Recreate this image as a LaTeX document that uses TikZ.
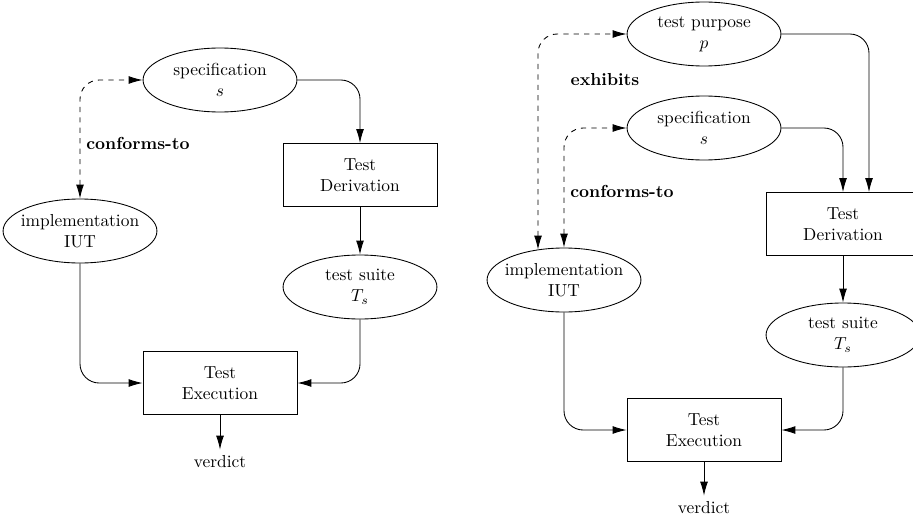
\documentclass[tikz,border=0pt]{standalone}
\usetikzlibrary{shapes.geometric,arrows.meta,calc}
\begin{document}
\begin{tikzpicture}[x=0.575pt,y=-0.575pt,line width=0.5pt,
  artefact/.style={draw,ellipse,inner xsep=-4pt,inner ysep=0pt,
    minimum width=88.5pt,minimum height=36.8pt,align=center},
  activity/.style={draw,rectangle,inner sep=0pt,
    minimum width=88.5pt,minimum height=36.2pt,align=center},
  tip/.style={Latex[length=8pt,width=4.5pt]},
  flow/.style={-{Latex[length=8pt,width=4.5pt]},rounded corners=11pt},
  relation/.style={dashed,{Latex[length=8pt,width=4.5pt]}-{Latex[length=8pt,width=4.5pt]},rounded corners=11pt},
  rellabel/.style={font=\bfseries}]
\useasboundingbox (0,0) rectangle (913,520);
\clip (0,0) rectangle (913,520);

% ---- conformance testing
\node[artefact] (specA) at (220,80) {specification\\$s$};
\node[activity] (derA) at (360,175) {Test\\Derivation};
\node[artefact] (iutA) at (80,231) {implementation\\IUT};
\node[artefact] (suiteA) at (360,287) {test suite\\$T_s$};
\node[activity] (execA) at (220,383) {Test\\Execution};
\node (verdA) at (220,462) {verdict};
\node[rellabel] (confA) at (138,143) {conforms-to};

\draw[relation] (iutA.north) |- (specA.west);
\draw[flow] (specA.east) -| (derA.north);
\draw[flow] (derA.south) -- (suiteA.north);
\draw[flow] (iutA.south) |- (execA.west);
\draw[flow] (suiteA.south) |- (execA.east);
\draw[flow] (execA.south) -- (verdA.north);

% ---- testing with a test purpose
\node[artefact] (purpB) at (704,34) {test purpose\\$p$};
\node[artefact] (specB) at (704,128) {specification\\$s$};
\node[activity] (derB) at (843,224) {Test\\Derivation};
\node[artefact] (iutB) at (564,280) {implementation\\IUT};
\node[artefact] (suiteB) at (843,335) {test suite\\$T_s$};
\node[activity] (execB) at (704,430) {Test\\Execution};
\node (verdB) at (704,508) {verdict};
\node[rellabel] (exhB) at (605,80) {exhibits};
\node[rellabel] (confB) at (622,191) {conforms-to};

\coordinate (iutBleft) at ($(iutB.north)+(-26,2)$);
\coordinate (derBright) at ($(derB.north)+(26,0)$);
\draw[relation] (iutBleft) |- (purpB.west);
\draw[relation] (iutB.north) |- (specB.west);
\draw[flow] (purpB.east) -| (derBright);
\draw[flow] (specB.east) -| (derB.north);
\draw[flow] (derB.south) -- (suiteB.north);
\draw[flow] (iutB.south) |- (execB.west);
\draw[flow] (suiteB.south) |- (execB.east);
\draw[flow] (execB.south) -- (verdB.north);
\end{tikzpicture}
\end{document}
